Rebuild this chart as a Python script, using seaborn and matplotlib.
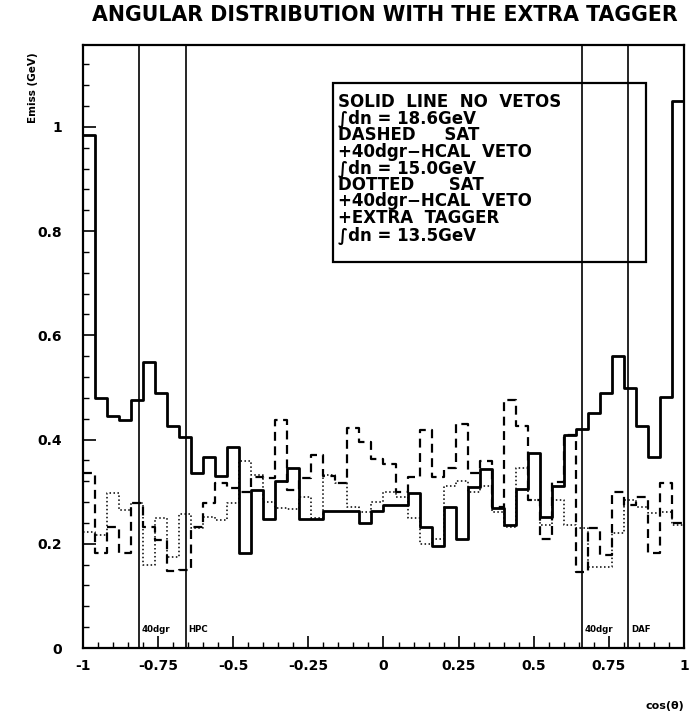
import numpy as np
import pandas as pd
import matplotlib
matplotlib.use("Agg")
import matplotlib.pyplot as plt
import seaborn as sns

# 50 bins in cos(theta) from -1 to 1
n_bins = 50
edges = np.linspace(-1.0, 1.0, n_bins + 1)
centers = 0.5 * (edges[:-1] + edges[1:])

solid_no_veto = [0.985, 0.48, 0.445, 0.438, 0.476, 0.549, 0.49, 0.426, 0.405, 0.336,
                 0.367, 0.33, 0.386, 0.183, 0.303, 0.247, 0.32, 0.345, 0.248, 0.248,
                 0.263, 0.263, 0.263, 0.24, 0.262, 0.274, 0.274, 0.297, 0.232, 0.196,
                 0.271, 0.209, 0.309, 0.343, 0.268, 0.236, 0.305, 0.374, 0.251, 0.31,
                 0.409, 0.42, 0.45, 0.49, 0.56, 0.498, 0.426, 0.366, 0.482, 1.05]

dashed_sat_hcal = [0.335, 0.182, 0.232, 0.182, 0.278, 0.233, 0.207, 0.147, 0.15, 0.232,
                   0.279, 0.316, 0.307, 0.30, 0.329, 0.326, 0.438, 0.303, 0.326, 0.37,
                   0.33, 0.317, 0.422, 0.396, 0.362, 0.354, 0.30, 0.329, 0.418, 0.329,
                   0.345, 0.43, 0.336, 0.358, 0.27, 0.476, 0.426, 0.284, 0.209, 0.319,
                   0.409, 0.146, 0.23, 0.178, 0.30, 0.274, 0.29, 0.182, 0.317, 0.24]

dotted_extra_tagger = [0.223, 0.217, 0.297, 0.264, 0.278, 0.159, 0.249, 0.175, 0.257, 0.23,
                       0.252, 0.245, 0.279, 0.358, 0.332, 0.281, 0.268, 0.266, 0.29, 0.25,
                       0.332, 0.317, 0.27, 0.26, 0.28, 0.30, 0.29, 0.25, 0.20, 0.21,
                       0.31, 0.32, 0.30, 0.31, 0.26, 0.233, 0.345, 0.284, 0.236, 0.284,
                       0.236, 0.23, 0.156, 0.156, 0.22, 0.284, 0.271, 0.259, 0.26, 0.236]

veto_edges = [-0.812, -0.657, 0.66, 0.815]
veto_labels = ["40dgr", "HPC", "40dgr", "DAF"]

x_ticks = [-1, -0.75, -0.5, -0.25, 0, 0.25, 0.5, 0.75, 1]
x_ticklabels = ["-1", "-0.75", "-0.5", "-0.25", "0", "0.25", "0.5", "0.75", "1"]
y_ticks = [0, 0.2, 0.4, 0.6, 0.8, 1]
y_ticklabels = ["0", "0.2", "0.4", "0.6", "0.8", "1"]

legend_lines = ["SOLID  LINE  NO  VETOS",
                "\u222bdn = 18.6GeV",
                "DASHED     SAT",
                "+40dgr\u2212HCAL  VETO",
                "\u222bdn = 15.0GeV",
                "DOTTED      SAT",
                "+40dgr\u2212HCAL  VETO",
                "+EXTRA  TAGGER",
                "\u222bdn = 13.5GeV"]

sns.set_theme(style="white")
plt.rcParams["font.family"] = ["DejaVu Sans"]
plt.rcParams["font.weight"] = "bold"
plt.rcParams["text.color"] = "black"
plt.rcParams["xtick.color"] = "black"
plt.rcParams["ytick.color"] = "black"
plt.rcParams["axes.labelcolor"] = "black"

fig = plt.figure(figsize=(6.9, 7.18), dpi=100)
ax = fig.add_axes([83 / 690, 70 / 718, 601 / 690, 603 / 718])

df = pd.DataFrame({"cos": centers, "solid": solid_no_veto,
                   "dashed": dashed_sat_hcal, "dotted": dotted_extra_tagger})

common = dict(data=df, x="cos", bins=n_bins, binrange=(-1, 1), element="step",
              fill=False, color="black", ax=ax)
sns.histplot(weights="solid", linewidth=2.0, **common)
sns.histplot(weights="dashed", linewidth=1.6, linestyle=(0, (4, 2.5)), **common)
sns.histplot(weights="dotted", linewidth=1.1, linestyle=(0, (1, 1.6)), **common)

for xv, lab in zip(veto_edges, veto_labels):
    ax.axvline(xv, color="black", linewidth=1.2)
    ax.text(xv + 0.008, 0.036, lab, fontsize=6.2, fontweight="bold", ha="left", va="center")

ax.set_xlim(-1, 1)
ax.set_ylim(0, 1.157)
ax.set_xticks(x_ticks)
ax.set_xticklabels(x_ticklabels)
ax.set_yticks(y_ticks)
ax.set_yticklabels(y_ticklabels)
ax.set_xticks(np.arange(-1, 1.001, 0.05), minor=True)
ax.set_yticks(np.arange(0, 1.157, 0.04), minor=True)
ax.tick_params(axis="both", which="both", direction="in", color="black",
               bottom=True, left=True, top=False, right=False)
ax.tick_params(axis="both", which="major", length=9, width=1.2, labelsize=10)
ax.tick_params(axis="x", which="major", pad=8)
ax.tick_params(axis="y", which="major", pad=15)
ax.tick_params(axis="both", which="minor", length=4, width=1.0)
for lab in ax.get_xticklabels() + ax.get_yticklabels():
    lab.set_fontweight("bold")
for sp in ax.spines.values():
    sp.set_color("black")
    sp.set_linewidth(1.6)

ax.set_xlabel("")
ax.set_ylabel("")
fig.text(684 / 690, 1 - 706 / 718, "cos(\u03b8)", fontsize=8, fontweight="bold",
         ha="right", va="center")
fig.text(33 / 690, 1 - 52 / 718, "Emiss (GeV)", fontsize=7.5, fontweight="bold",
         rotation=90, ha="center", va="top")
fig.text(385 / 690, 1 - 15 / 718, "ANGULAR DISTRIBUTION WITH THE EXTRA TAGGER",
         fontsize=14.8, fontweight="bold", ha="center", va="center")

# annotation box with the integrals
box = plt.Rectangle((0.416, 0.64), 0.521, 0.297, transform=ax.transAxes,
                    fill=False, edgecolor="black", linewidth=1.6)
ax.add_patch(box)
for i, line in enumerate(legend_lines):
    ax.text(0.424, 0.921 - i * 0.0276, line, transform=ax.transAxes,
            fontsize=12, fontweight="bold", ha="left", va="top")

fig.savefig("out.png", dpi=100)
